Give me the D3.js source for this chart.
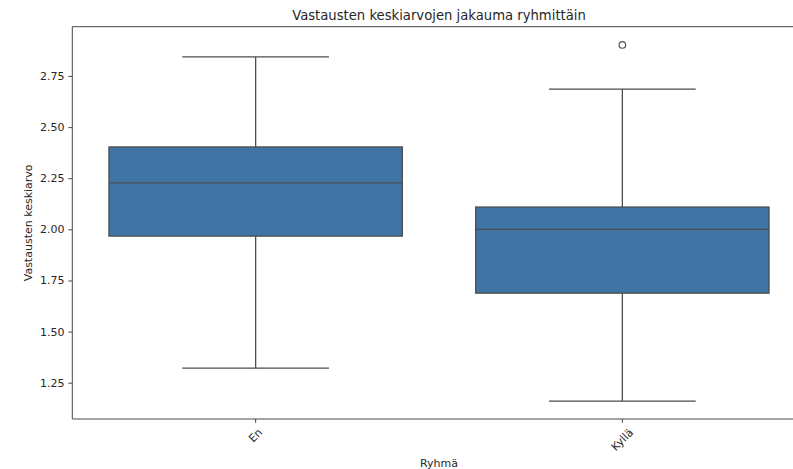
<!DOCTYPE html>
<html><head><meta charset="utf-8">
<script src="https://cdn.jsdelivr.net/npm/d3@7"></script>
<style>body{margin:0;background:#fff}svg{display:block}text{font-family:"DejaVu Sans",sans-serif;fill:#262626}</style>
</head><body><svg id="c" width="793" height="469"></svg>
<script>
const categories = ["En", "Kyllä"];
const whiskerLow = [1.321, 1.160];
const q1 = [1.967, 1.688];
const median = [2.227, 2.000];
const q3 = [2.403, 2.109];
const whiskerHigh = [2.843, 2.686];
const outliers = [[], [2.902]];
const yTicks = [1.25, 1.50, 1.75, 2.00, 2.25, 2.50, 2.75];
const title = "Vastausten keskiarvojen jakauma ryhmittäin";
const xLabel = "Ryhmä";
const yLabel = "Vastausten keskiarvo";

const svg = d3.select("#c");
const m = {left: 72.3, top: 26.7, right: 805.7, bottom: 419};
const boxColor = "#3f74a5", lineColor = "#4d4d4d";

const x = d3.scaleBand().domain(categories).range([m.left, m.right]).paddingInner(0.2).paddingOuter(0.1);
// band: box width = 0.8 of category step
const step = (m.right - m.left) / categories.length;
const cx = c => m.left + step * (categories.indexOf(c) + 0.5);
const bw = step * 0.8;
const y = d3.scaleLinear().domain([1.0725, 2.991]).range([m.bottom, m.top]);

const data = categories.map((c, i) => ({c, lo: whiskerLow[i], q1: q1[i], med: median[i], q3: q3[i], hi: whiskerHigh[i], out: outliers[i]}));

const g = svg.append("g");
data.forEach(d => {
  const X = cx(d.c);
  g.append("line").attr("x1", X).attr("x2", X).attr("y1", y(d.lo)).attr("y2", y(d.q1)).attr("stroke", lineColor).attr("stroke-width", 1.3);
  g.append("line").attr("x1", X).attr("x2", X).attr("y1", y(d.q3)).attr("y2", y(d.hi)).attr("stroke", lineColor).attr("stroke-width", 1.3);
  g.append("line").attr("x1", X - bw/4).attr("x2", X + bw/4).attr("y1", y(d.lo)).attr("y2", y(d.lo)).attr("stroke", lineColor).attr("stroke-width", 1.3);
  g.append("line").attr("x1", X - bw/4).attr("x2", X + bw/4).attr("y1", y(d.hi)).attr("y2", y(d.hi)).attr("stroke", lineColor).attr("stroke-width", 1.3);
  g.append("rect").attr("x", X - bw/2).attr("width", bw).attr("y", y(d.q3)).attr("height", y(d.q1) - y(d.q3))
    .attr("fill", boxColor).attr("stroke", lineColor).attr("stroke-width", 1.3);
  g.append("line").attr("x1", X - bw/2).attr("x2", X + bw/2).attr("y1", y(d.med)).attr("y2", y(d.med)).attr("stroke", lineColor).attr("stroke-width", 1.3);
  d.out.forEach(v => g.append("circle").attr("cx", X).attr("cy", y(v)).attr("r", 3.3).attr("fill", "none").attr("stroke", lineColor).attr("stroke-width", 1.1));
});

// spines
const spine = "#333";
svg.append("line").attr("x1", m.left).attr("x2", m.left).attr("y1", m.top).attr("y2", m.bottom).attr("stroke", spine).attr("stroke-width", 0.9);
svg.append("line").attr("x1", m.left).attr("x2", m.right).attr("y1", m.bottom).attr("y2", m.bottom).attr("stroke", spine).attr("stroke-width", 0.9);
svg.append("line").attr("x1", m.left).attr("x2", m.right).attr("y1", m.top).attr("y2", m.top).attr("stroke", spine).attr("stroke-width", 0.9);

// y axis
const yAxis = d3.axisLeft(y).tickValues(yTicks).tickFormat(d3.format(".2f")).tickSize(3.9).tickPadding(3.9);
const ya = svg.append("g").attr("transform", `translate(${m.left},0)`).call(yAxis);
ya.select(".domain").remove();
ya.selectAll("line").attr("stroke", spine).attr("stroke-width", 0.9);
ya.selectAll("text").attr("font-size", 11).style("fill", "#262626");

// x axis ticks + rotated labels
data.forEach(d => {
  const X = cx(d.c);
  svg.append("line").attr("x1", X).attr("x2", X).attr("y1", m.bottom).attr("y2", m.bottom + 3.9).attr("stroke", spine).attr("stroke-width", 0.9);
  const t = svg.append("text").text(d.c).attr("font-size", 11).attr("text-anchor", "middle").attr("dominant-baseline", "central");
  const w = t.node().getComputedTextLength(), h = 11 * 1.0;
  const top = m.bottom + 3.9 + 3.9;
  t.attr("transform", `translate(${X},${top + (w + h) * Math.SQRT1_2 / 2}) rotate(-45)`);
});

const mid = (m.left + m.right) / 2;
svg.append("text").text(title).attr("x", mid).attr("y", 15).attr("font-size", 13.2).attr("text-anchor", "middle").attr("dominant-baseline", "central");
svg.append("text").text(xLabel).attr("x", mid).attr("y", 463).attr("font-size", 11).attr("text-anchor", "middle").attr("dominant-baseline", "central");
svg.append("text").text(yLabel).attr("transform", `translate(28,${(m.top + m.bottom)/2}) rotate(-90)`).attr("font-size", 11).attr("text-anchor", "middle").attr("dominant-baseline", "central");
</script></body></html>
